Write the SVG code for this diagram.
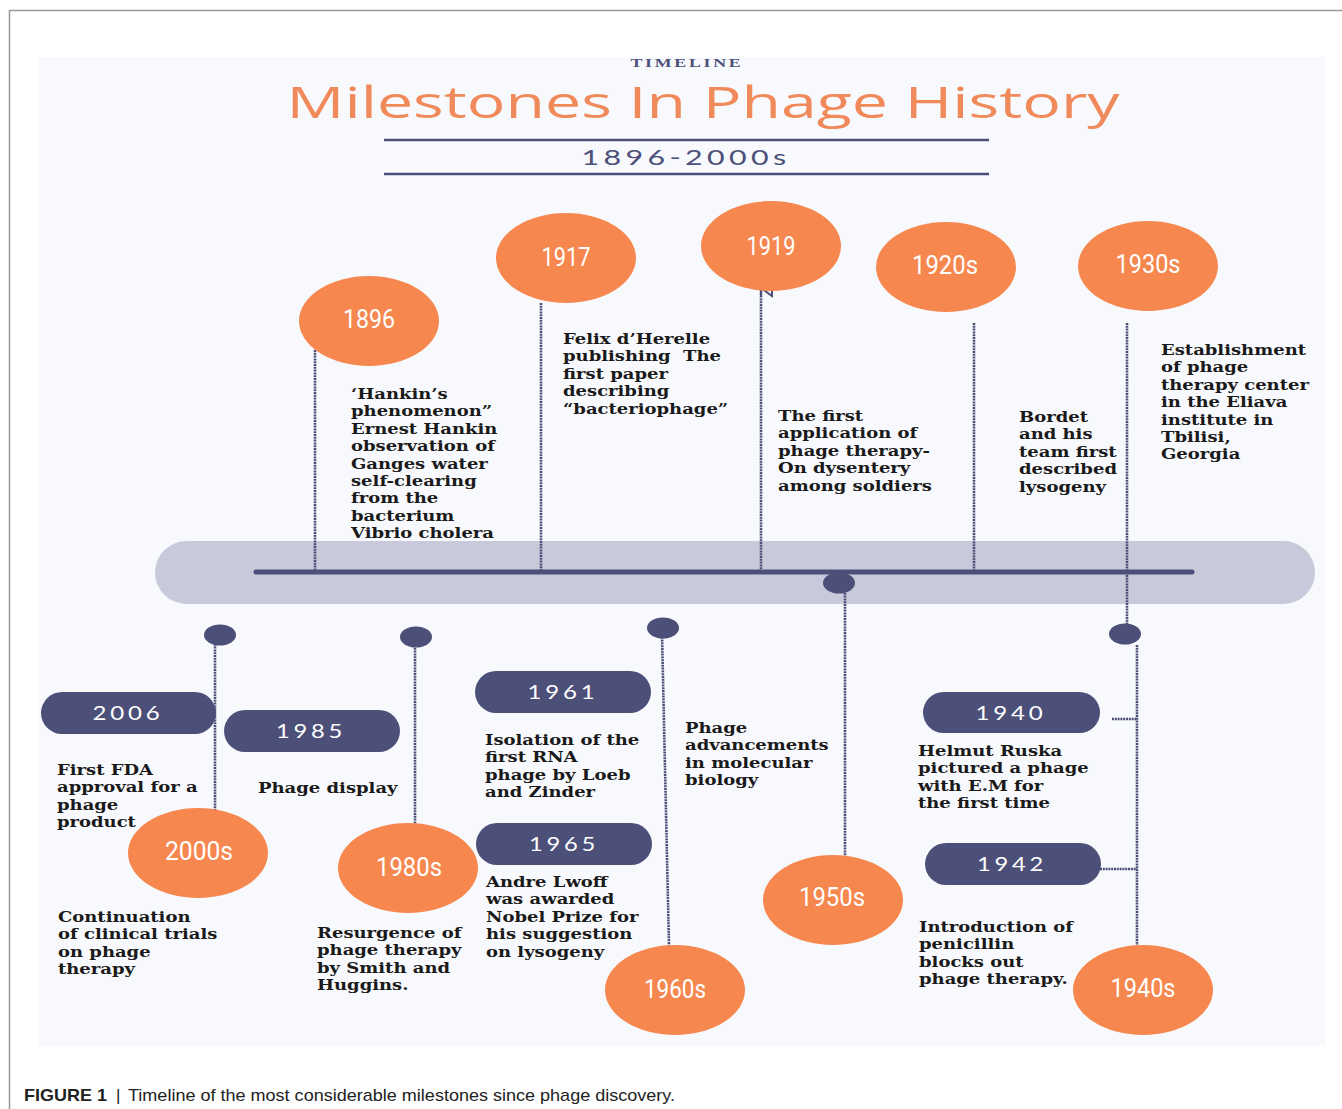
<svg xmlns="http://www.w3.org/2000/svg" width="1342" height="1109" viewBox="0 0 1342 1109">
<defs>
<style>
.orb{fill:#f6874f}
.pill{fill:#4c5079}
.dot{fill:#4c5079}
.yr{font-family:Roboto,"Liberation Sans",sans-serif;font-size:25px;fill:#ffffff;text-anchor:middle}
.pt{font-family:Lato,"Liberation Sans",sans-serif;font-size:19px;fill:#ffffff;text-anchor:middle;letter-spacing:3px}
.desc{font-family:"DejaVu Serif","Liberation Serif",serif;font-weight:bold;font-size:15px;fill:#1a1a1a}
.conn line,.conn path{stroke:#4c5079;stroke-width:2.6;stroke-dasharray:2 0.8;fill:none}
</style>
</defs>
<rect width="1342" height="1109" fill="#ffffff"/>
<path d="M9.5 1109 V10.5 H1342" fill="none" stroke="#999999" stroke-width="1.5"/>
<rect x="39" y="57" width="1286" height="989" fill="#f8f9fd"/>

<g id="header">
<text x="687" y="67" font-family="Liberation Serif,serif" font-weight="bold" font-size="13" fill="#4c5079" text-anchor="middle" letter-spacing="2" textLength="113" lengthAdjust="spacingAndGlyphs">TIMELINE</text>
<text x="703" y="118" font-family="'Open Sans',Lato,sans-serif" font-size="44" fill="#f08a5b" text-anchor="middle" textLength="833" lengthAdjust="spacingAndGlyphs">Milestones In Phage History</text>
<line x1="384" y1="140" x2="989" y2="140" stroke="#4c5079" stroke-width="2.5"/>
<text x="686" y="165" font-family="Lato,'Liberation Sans',sans-serif" font-size="21" fill="#4c5079" text-anchor="middle" letter-spacing="3" textLength="209" lengthAdjust="spacingAndGlyphs">1896-2000s</text>
<line x1="384" y1="174" x2="989" y2="174" stroke="#4c5079" stroke-width="2.5"/>
</g>

<g id="band">
<rect x="155" y="541" width="1160" height="63" rx="31.5" fill="#c8c9da"/>
<line x1="256" y1="572" x2="1192" y2="572" stroke="#4c5079" stroke-width="5" stroke-linecap="round"/>
</g>

<g class="conn" id="connectors">
<line x1="315" y1="350" x2="315" y2="572"/>
<line x1="541" y1="303" x2="541" y2="572"/>
<line x1="761" y1="290" x2="761" y2="572"/>
<path d="M761 296 V288 L772 296 V289" style="stroke-dasharray:none;stroke-width:2"/>
<line x1="974" y1="323" x2="974" y2="572"/>
<line x1="1127" y1="323" x2="1127" y2="630"/>
<line x1="1137" y1="645" x2="1137" y2="945"/>
<line x1="1112" y1="719" x2="1137" y2="719"/>
<line x1="1100" y1="869" x2="1137" y2="869"/>
<line x1="215" y1="641" x2="215" y2="810"/>
<line x1="415" y1="645" x2="415" y2="825"/>
<line x1="662" y1="634" x2="669" y2="946"/>
<line x1="845" y1="590" x2="845" y2="857"/>
</g>

<g id="dots">
<ellipse class="dot" cx="220" cy="635" rx="16" ry="10.5"/>
<ellipse class="dot" cx="416" cy="637" rx="16" ry="10.5"/>
<ellipse class="dot" cx="663" cy="628" rx="16" ry="10.5"/>
<ellipse class="dot" cx="839" cy="583" rx="16" ry="10.5"/>
<ellipse class="dot" cx="1125" cy="634" rx="16" ry="10.5"/>
</g>

<g id="n1896">
<ellipse class="orb" cx="369" cy="321" rx="70" ry="45"/>
<text class="yr" x="369" y="328" textLength="52" lengthAdjust="spacingAndGlyphs">1896</text>
<text class="desc" transform="translate(351 399) scale(1.2 1)"><tspan x="0">‘Hankin’s</tspan><tspan x="0" dy="17.4">phenomenon”</tspan><tspan x="0" dy="17.4">Ernest Hankin</tspan><tspan x="0" dy="17.4">observation of</tspan><tspan x="0" dy="17.4">Ganges water</tspan><tspan x="0" dy="17.4">self-clearing</tspan><tspan x="0" dy="17.4">from the</tspan><tspan x="0" dy="17.4">bacterium</tspan><tspan x="0" dy="17.4">Vibrio cholera</tspan></text>
</g>

<g id="n1917">
<ellipse class="orb" cx="566" cy="258" rx="70" ry="45"/>
<text class="yr" x="566" y="266" textLength="49" lengthAdjust="spacingAndGlyphs">1917</text>
<text class="desc" transform="translate(563 344) scale(1.2 1)"><tspan x="0">Felix d’Herelle</tspan><tspan x="0" dy="17.4">publishing&#160; The</tspan><tspan x="0" dy="17.4">first paper</tspan><tspan x="0" dy="17.4">describing</tspan><tspan x="0" dy="17.4">“bacteriophage”</tspan></text>
</g>

<g id="n1919">
<ellipse class="orb" cx="771" cy="246" rx="70" ry="45"/>
<text class="yr" x="771" y="255" textLength="49" lengthAdjust="spacingAndGlyphs">1919</text>
<text class="desc" transform="translate(778 421) scale(1.2 1)"><tspan x="0">The first</tspan><tspan x="0" dy="17.4">application of</tspan><tspan x="0" dy="17.4">phage therapy-</tspan><tspan x="0" dy="17.4">On dysentery</tspan><tspan x="0" dy="17.4">among soldiers</tspan></text>
</g>

<g id="n1920s">
<ellipse class="orb" cx="946" cy="267" rx="70" ry="45"/>
<text class="yr" x="945" y="274" textLength="66" lengthAdjust="spacingAndGlyphs">1920s</text>
<text class="desc" transform="translate(1019 422) scale(1.2 1)"><tspan x="0">Bordet</tspan><tspan x="0" dy="17.4">and his</tspan><tspan x="0" dy="17.4">team first</tspan><tspan x="0" dy="17.4">described</tspan><tspan x="0" dy="17.4">lysogeny</tspan></text>
</g>

<g id="n1930s">
<ellipse class="orb" cx="1148" cy="266" rx="70" ry="45"/>
<text class="yr" x="1148" y="273" textLength="65" lengthAdjust="spacingAndGlyphs">1930s</text>
<text class="desc" transform="translate(1161 355) scale(1.2 1)"><tspan x="0">Establishment</tspan><tspan x="0" dy="17.4">of phage</tspan><tspan x="0" dy="17.4">therapy center</tspan><tspan x="0" dy="17.4">in the Eliava</tspan><tspan x="0" dy="17.4">institute in</tspan><tspan x="0" dy="17.4">Tbilisi,</tspan><tspan x="0" dy="17.4">Georgia</tspan></text>
</g>

<g id="n2006">
<rect class="pill" x="41" y="692" width="175" height="42" rx="21"/>
<text class="pt" x="128" y="720" textLength="71" lengthAdjust="spacingAndGlyphs">2006</text>
<text class="desc" transform="translate(57 775) scale(1.2 1)"><tspan x="0">First FDA</tspan><tspan x="0" dy="17.4">approval for a</tspan><tspan x="0" dy="17.4">phage</tspan><tspan x="0" dy="17.4">product</tspan></text>
</g>

<g id="n1985">
<rect class="pill" x="224" y="710" width="176" height="42" rx="21"/>
<text class="pt" x="311" y="738" textLength="70" lengthAdjust="spacingAndGlyphs">1985</text>
<text class="desc" transform="translate(258 793) scale(1.2 1)">Phage display</text>
</g>

<g id="n2000s">
<ellipse class="orb" cx="198" cy="853" rx="70" ry="45"/>
<text class="yr" x="199" y="860" textLength="68" lengthAdjust="spacingAndGlyphs">2000s</text>
<text class="desc" transform="translate(58 922) scale(1.2 1)"><tspan x="0">Continuation</tspan><tspan x="0" dy="17.4">of clinical trials</tspan><tspan x="0" dy="17.4">on phage</tspan><tspan x="0" dy="17.4">therapy</tspan></text>
</g>

<g id="n1980s">
<ellipse class="orb" cx="408" cy="868" rx="70" ry="45"/>
<text class="yr" x="409" y="876" textLength="66" lengthAdjust="spacingAndGlyphs">1980s</text>
<text class="desc" transform="translate(317 938) scale(1.2 1)"><tspan x="0">Resurgence of</tspan><tspan x="0" dy="17.4">phage therapy</tspan><tspan x="0" dy="17.4">by Smith and</tspan><tspan x="0" dy="17.4">Huggins.</tspan></text>
</g>

<g id="n1961">
<rect class="pill" x="475" y="671" width="176" height="42" rx="21"/>
<text class="pt" x="563" y="699" textLength="71" lengthAdjust="spacingAndGlyphs">1961</text>
<text class="desc" transform="translate(485 745) scale(1.2 1)"><tspan x="0">Isolation of the</tspan><tspan x="0" dy="17.4">first RNA</tspan><tspan x="0" dy="17.4">phage by Loeb</tspan><tspan x="0" dy="17.4">and Zinder</tspan></text>
</g>

<g id="n1965">
<rect class="pill" x="476" y="823" width="176" height="42" rx="21"/>
<text class="pt" x="564" y="851" textLength="70" lengthAdjust="spacingAndGlyphs">1965</text>
<text class="desc" transform="translate(486 887) scale(1.2 1)"><tspan x="0">Andre Lwoff</tspan><tspan x="0" dy="17.4">was awarded</tspan><tspan x="0" dy="17.4">Nobel Prize for</tspan><tspan x="0" dy="17.4">his suggestion</tspan><tspan x="0" dy="17.4">on lysogeny</tspan></text>
</g>

<g id="n1960s">
<ellipse class="orb" cx="675" cy="990" rx="70" ry="45"/>
<text class="yr" x="675" y="998" textLength="62" lengthAdjust="spacingAndGlyphs">1960s</text>
</g>

<g id="n1950s">
<ellipse class="orb" cx="833" cy="900" rx="70" ry="45"/>
<text class="yr" x="832" y="906" textLength="66" lengthAdjust="spacingAndGlyphs">1950s</text>
<text class="desc" transform="translate(685 733) scale(1.2 1)"><tspan x="0">Phage</tspan><tspan x="0" dy="17.4">advancements</tspan><tspan x="0" dy="17.4">in molecular</tspan><tspan x="0" dy="17.4">biology</tspan></text>
</g>

<g id="n1940">
<rect class="pill" x="923" y="692" width="177" height="41" rx="20.5"/>
<text class="pt" x="1011" y="720" textLength="71" lengthAdjust="spacingAndGlyphs">1940</text>
<text class="desc" transform="translate(918 756) scale(1.2 1)"><tspan x="0">Helmut Ruska</tspan><tspan x="0" dy="17.4">pictured a phage</tspan><tspan x="0" dy="17.4">with E.M for</tspan><tspan x="0" dy="17.4">the first time</tspan></text>
</g>

<g id="n1942">
<rect class="pill" x="925" y="843" width="176" height="42" rx="21"/>
<text class="pt" x="1012" y="871" textLength="70" lengthAdjust="spacingAndGlyphs">1942</text>
<text class="desc" transform="translate(919 932) scale(1.2 1)"><tspan x="0">Introduction of</tspan><tspan x="0" dy="17.4">penicillin</tspan><tspan x="0" dy="17.4">blocks out</tspan><tspan x="0" dy="17.4">phage therapy.</tspan></text>
</g>

<g id="n1940s">
<ellipse class="orb" cx="1143" cy="990" rx="70" ry="45"/>
<text class="yr" x="1143" y="997" textLength="65" lengthAdjust="spacingAndGlyphs">1940s</text>
</g>

<g id="caption" font-family="'Liberation Sans',Arial,sans-serif" font-size="17" fill="#222222">
<text x="24" y="1101" font-weight="bold" textLength="83" lengthAdjust="spacingAndGlyphs">FIGURE 1</text>
<text x="116" y="1101">|</text>
<text x="128" y="1101" textLength="547" lengthAdjust="spacingAndGlyphs">Timeline of the most considerable milestones since phage discovery.</text>
</g>
</svg>
